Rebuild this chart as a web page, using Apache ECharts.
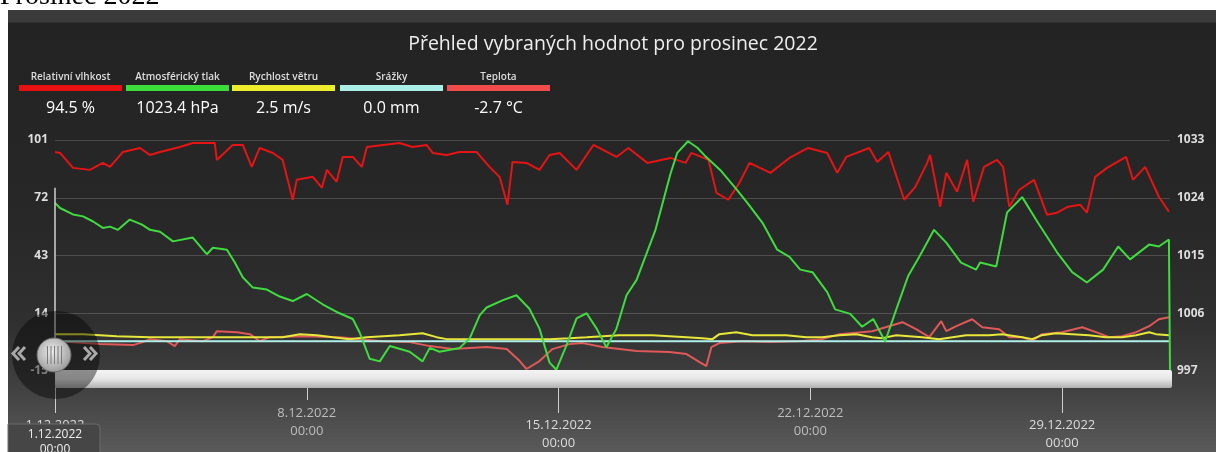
<!DOCTYPE html>
<html><head><meta charset="utf-8">
<script src="https://cdn.jsdelivr.net/npm/echarts@6/dist/echarts.min.js"></script>
<style>html,body{margin:0;padding:0;background:#fff}#c{width:1216px;height:452px}</style>
</head><body><div id="c"></div>
<script>
const T0 = Date.UTC(2022, 11, 1);
const DAY = 86400000;

const pageHeading = 'Prosinec 2022';
const chartTitle = 'Přehled vybraných hodnot pro prosinec 2022';
const legendLabels = ['Relativní vlhkost', 'Atmosférický tlak', 'Rychlost větru', 'Srážky', 'Teplota'];
const legendValues = ['94.5 %', '1023.4 hPa', '2.5 m/s', '0.0 mm', '-2.7 °C'];

// day offsets from 1.12.2022 00:00 and values
const humDays = [0,0.14,0.5,0.97,1.33,1.53,1.89,2.36,2.64,2.92,3.47,3.83,4.44,4.5,4.94,5.22,5.47,5.69,6.06,6.33,6.61,6.72,7.17,7.42,7.56,7.83,8.0,8.28,8.53,8.67,9.58,9.94,10.33,10.5,10.89,11.25,11.72,12.08,12.36,12.58,12.72,13.11,13.47,13.75,14.03,14.5,14.97,15.61,15.94,16.47,17.11,17.53,17.69,18.17,18.39,18.72,19.03,19.31,19.89,20.42,20.94,21.47,21.75,22.0,22.64,22.86,23.17,23.61,23.92,24.25,24.33,24.61,24.78,25.08,25.36,25.53,25.83,26.19,26.36,26.53,26.81,27.22,27.58,27.86,28.17,28.5,28.69,28.92,29.25,29.78,29.97,30.31,30.69,30.97];
const humVals = [95,94.5,87,86,89.5,87.5,95,97,93.5,95,97.5,99.5,99.5,91,98.5,98.5,87.5,97,94.5,91,71,81,82.5,77,86,80,92.5,92.5,87.5,97.5,99.5,97.5,98.5,94.5,93.5,95,95,87.5,82.5,68.5,90,89.5,86,93.5,94.5,86,98.5,92.5,97,89.5,92,89.5,94.5,91,74.5,71,79.5,89.5,84.5,92,97,94.5,84.5,92.5,97,90,95,71,77.5,89.5,93.5,67.5,84.5,75,91,70,87.5,91,87.5,67.5,76,81,63.5,64.5,67.5,68.5,64.5,82.5,87,92.5,81,87.5,72.5,65];

const presDays = [0,0.14,0.5,0.78,1.06,1.33,1.53,1.75,2.08,2.42,2.64,2.92,3.28,3.83,4.22,4.39,4.78,5.0,5.22,5.5,5.89,6.25,6.61,7.0,7.44,7.83,8.28,8.47,8.75,9.03,9.31,9.86,10.22,10.42,10.69,11.25,11.53,11.81,12.0,12.44,12.83,13.19,13.47,13.75,13.94,14.22,14.5,14.78,15.06,15.33,15.61,15.89,16.17,16.69,17.11,17.3,17.6,17.86,18.06,18.5,18.92,19.25,19.67,20.08,20.42,20.72,21.06,21.47,21.69,22.11,22.44,22.75,23.08,23.39,23.72,24.03,24.44,24.78,25.19,25.61,25.72,26.17,26.47,26.89,27.33,27.86,28.28,28.69,29.14,29.56,29.89,30.42,30.69,30.97,31.0];
const presVals = [1023.2,1022.4,1021.4,1021.1,1020.3,1019.3,1019.5,1019.0,1020.6,1019.8,1019.0,1018.7,1017.2,1017.8,1015.2,1016.2,1015.9,1013.9,1011.6,1010.0,1009.7,1008.6,1007.9,1009.0,1007.4,1006.2,1005.1,1003.0,998.9,998.5,1000.9,1000.0,998.5,1000.6,1000.0,1000.6,1002.1,1005.7,1006.9,1008.0,1008.8,1006.7,1003.6,998.3,997.2,1001.0,1005.2,1006.0,1003.6,1000.7,1003.6,1008.8,1011.2,1018.9,1027.7,1031.0,1032.8,1031.8,1030.6,1028.3,1025.5,1023.2,1020.1,1015.9,1014.8,1012.8,1012.4,1009.3,1006.6,1005.9,1003.9,1005.1,1001.6,1006.6,1011.8,1014.8,1019.0,1017.0,1013.9,1012.8,1013.9,1013.3,1021.7,1024.1,1020.1,1015.5,1012.4,1010.8,1012.8,1016.4,1014.4,1016.7,1016.4,1017.5,997];

const windDays = [0,0.78,1.72,2.64,3.56,4.03,5.42,6.33,6.81,7.28,7.72,8.19,8.67,9.58,10.22,10.61,10.89,11.53,12.64,13.75,14.31,14.78,15.69,16.61,17.56,18.0,18.28,18.47,18.94,19.39,20.33,20.89,21.33,21.81,22.28,22.72,23.0,23.39,24.11,24.58,25.33,25.97,26.33,26.89,27.17,27.44,27.83,28.28,28.75,29.22,29.67,30.06,30.42,30.61,30.97];
const windVals = [3.5,3.5,2.5,2,2,2,2,2,3.5,3,2,1,2,3,4,2,1,1,1,1,1.5,2,3,3,2,1.5,1,3.5,4.5,3,3,2,2,3,3.5,2,1.5,3,2,1,3,3,3.5,2,1,3,4,3.5,3,2,2,3,4.5,3.5,3];

const precDays = [0,1,2,3,4,5,6,7,8,9,10,11,12,13,14,15,16,17,18,19,20,21,22,23,24,25,26,27,28,29,30,30.97];
const precVals = [0,0,0,0,0,0,0,0,0,0,0,0,0,0,0,0,0,0,0,0,0,0,0,0,0,0,0,0,0,0,0,0];

const tempDays = [0,0.42,1.25,2.17,2.44,2.64,3.11,3.33,3.47,4.11,4.39,4.5,5.06,5.42,5.69,5.97,6.89,7.92,8.47,9.11,9.86,10.42,11.06,12.0,12.56,12.92,13.11,13.47,13.83,14.31,14.67,15.22,16.17,17.08,17.56,17.92,18.11,18.25,18.47,19.11,19.86,20.69,21.33,21.81,22.72,23.56,23.94,24.31,24.64,24.78,25.06,25.5,25.78,26.25,26.53,26.89,27.17,27.44,28.0,28.56,28.94,29.31,29.67,30.06,30.42,30.69,30.97];
const tempVals = [0,-0.5,-1.5,-2,-0.5,1,0,-2.5,1,0,2,5,4.5,3.5,0,2,2.5,2,1,0,-0.5,-2.5,-4,-3,-4,-10,-14,-10,-4,-1.5,-1,-3,-5,-5.5,-6.5,-10.5,-12.5,-3,-1,0,-0.5,0,1,3.5,5,9.5,6,2,10,5,7.5,11,7,6,2,2,0,3.5,4.5,7,4.5,2,2.5,4.5,7.5,11,12];

const upperTickDays = [7, 21];
const lowerTickDays = [0, 14, 28];

const COL = {
  hum: '#e61414', pres: '#3fdc3f', wind: '#e8e83a', prec: '#aef0e6', temp: '#e05858'
};
const legendColors = ['#e81010', '#3ddc3d', '#eded2d', '#aaf0e8', '#f04c4c'];

function toData(days, vals) { return days.map((d, i) => [d, vals[i]]); }
function pad(n) { return (n < 10 ? '0' : '') + n; }
function fmt(v) {
  const d = new Date(T0 + v * DAY);
  return d.getUTCDate() + '.' + (d.getUTCMonth() + 1) + '.' + d.getUTCFullYear() + '\n' + pad(d.getUTCHours()) + ':' + pad(d.getUTCMinutes());
}

const FONT = '"Open Sans", "Noto Sans", sans-serif';
const graphics = [];
graphics.push({ type: 'text', z: 1, style: { text: pageHeading, x: 0, y: -3, font: '28px "Liberation Serif", serif', fill: '#000', textVerticalAlign: 'middle' } });
graphics.push({ type: 'rect', z: -20, shape: { x: 8, y: 10, width: 1208, height: 442 },
  style: { fill: new echarts.graphic.LinearGradient(0, 0, 0, 1, [
    { offset: 0, color: '#3b3b3b' }, { offset: 0.027, color: '#3b3b3b' }, { offset: 0.03, color: '#232323' },
    { offset: 0.45, color: '#272727' }, { offset: 0.7, color: '#2f2f2f' }, { offset: 0.85, color: '#404040' }, { offset: 1, color: '#5a5a5a' }]) } });
graphics.push({ type: 'text', z: 10, style: { text: chartTitle, x: 613, y: 44, font: '19.5px ' + FONT, fill: '#eeeeee', textAlign: 'center', textVerticalAlign: 'middle' } });
const legX = [19, 126, 232, 340, 447];
legendLabels.forEach((lab, i) => {
  const cx = legX[i] + 51.5;
  graphics.push({ type: 'text', z: 10, style: { text: lab, x: cx, y: 77, font: '600 10px ' + FONT, fill: '#dddddd', textAlign: 'center', textVerticalAlign: 'middle' } });
  graphics.push({ type: 'rect', z: 10, shape: { x: legX[i], y: 85, width: 103, height: 6 }, style: { fill: legendColors[i] } });
  graphics.push({ type: 'text', z: 10, style: { text: legendValues[i], x: cx, y: 108, font: '16px ' + FONT, fill: '#ffffff', textAlign: 'center', textVerticalAlign: 'middle' } });
});
// scrollbar / slider
graphics.push({ type: 'rect', z: 50, shape: { x: 55, y: 370, width: 1117, height: 18, r: 2 },
  style: { fill: new echarts.graphic.LinearGradient(0, 0, 0, 1, [{ offset: 0, color: '#f4f4f4' }, { offset: 0.5, color: '#e6e6e6' }, { offset: 1, color: '#b0b0b0' }]) } });
graphics.push({ type: 'circle', z: 51, shape: { cx: 56, cy: 355, r: 44 }, style: { fill: 'rgba(0,0,0,0.42)' } });
graphics.push({ type: 'circle', z: 52, shape: { cx: 54, cy: 355, r: 17 },
  style: { fill: new echarts.graphic.RadialGradient(0.45, 0.4, 0.7, [{ offset: 0, color: '#ececec' }, { offset: 1, color: '#8e8e8e' }]), stroke: '#6a6a6a', lineWidth: 1 } });
[47.5, 51, 54.5, 58, 61.5].forEach(x => {
  graphics.push({ type: 'line', z: 53, shape: { x1: x, y1: 346, x2: x, y2: 364 }, style: { stroke: '#7a7a7a', lineWidth: 1 } });
});
[[[19, 347], [13, 353.5], [19, 360]], [[25, 347], [19, 353.5], [25, 360]], [[84, 347], [90, 353.5], [84, 360]], [[90, 347], [96, 353.5], [90, 360]]].forEach(pts => {
  graphics.push({ type: 'polyline', z: 53, shape: { points: pts }, style: { stroke: '#a8a8a8', lineWidth: 3, fill: null } });
});
// bottom-left navigator label
graphics.push({ type: 'rect', z: 54, shape: { x: 8, y: 424, width: 92, height: 32, r: [0, 4, 0, 0] }, style: { fill: '#464646', stroke: '#6a6a6a', lineWidth: 1 } });
graphics.push({ type: 'text', z: 55, style: { text: '1.12.2022\n00:00', x: 55, y: 427, font: '12px ' + FONT, lineHeight: 15, fill: '#eeeeee', textAlign: 'center', textVerticalAlign: 'top' } });

const labelBase = { formatter: fmt, color: '#bdbdbd', fontSize: 13, lineHeight: 18, fontFamily: FONT, showMinLabel: true, showMaxLabel: true };
const numFmt = v => String(v);

const option = {
  animation: false,
  grid: { left: 55, top: 140, width: 1115, height: 232, containLabel: false },
  graphic: { elements: graphics },
  xAxis: [
    { type: 'value', min: 0, max: 31, position: 'bottom', offset: 16,
      axisLine: { show: false }, splitLine: { show: false }, axisTick: { show: false }, axisLabel: { show: false } },
    { type: 'value', min: 0, max: 31, position: 'bottom', offset: 16,
      axisLine: { show: false }, splitLine: { show: false },
      axisTick: { show: true, customValues: upperTickDays, length: 13, lineStyle: { color: '#cfcfcf', width: 1 } },
      axisLabel: Object.assign({ customValues: upperTickDays, margin: 17 }, labelBase) },
    { type: 'value', min: 0, max: 31, position: 'bottom', offset: 16,
      axisLine: { show: false }, splitLine: { show: false },
      axisTick: { show: true, customValues: lowerTickDays, length: 26, lineStyle: { color: '#cfcfcf', width: 1 } },
      axisLabel: Object.assign({ customValues: lowerTickDays, margin: 29 }, labelBase, { color: '#dcdcdc' }) }
  ],
  yAxis: [
    { type: 'value', min: -15, max: 101, interval: 29, position: 'left',
      axisLine: { show: false }, axisTick: { show: false },
      axisLabel: { color: '#dddddd', fontSize: 12, fontWeight: 'bold', margin: 7, fontFamily: FONT, formatter: numFmt },
      splitLine: { lineStyle: { color: 'rgba(255,255,255,0.17)', width: 1 } } },
    { type: 'value', min: 997, max: 1033, interval: 9, position: 'right',
      axisLine: { show: false }, axisTick: { show: false },
      axisLabel: { color: '#dddddd', fontSize: 12, fontWeight: 'bold', margin: 7, fontFamily: FONT, formatter: numFmt },
      splitLine: { show: false } }
  ],
  series: [
    { name: 'Teplota', type: 'line', xAxisIndex: 0, yAxisIndex: 0, data: toData(tempDays, tempVals), showSymbol: false, lineStyle: { color: COL.temp, width: 2 }, itemStyle: { color: COL.temp } },
    { name: 'Rychlost větru', type: 'line', xAxisIndex: 0, yAxisIndex: 0, data: toData(windDays, windVals), showSymbol: false, lineStyle: { color: COL.wind, width: 2 }, itemStyle: { color: COL.wind } },
    { name: 'Srážky', type: 'line', xAxisIndex: 0, yAxisIndex: 0, data: toData(precDays, precVals), showSymbol: false, lineStyle: { color: COL.prec, width: 2 }, itemStyle: { color: COL.prec } },
    { name: 'Relativní vlhkost', type: 'line', xAxisIndex: 0, yAxisIndex: 0, data: toData(humDays, humVals), showSymbol: false, lineStyle: { color: COL.hum, width: 2 }, itemStyle: { color: COL.hum },
      markLine: { silent: true, symbol: 'none', label: { show: false }, lineStyle: { color: '#d0d0d0', width: 1.5, type: 'solid' },
        data: [[{ coord: [0, 77] }, { coord: [0, -15] }]] } },
    { name: 'Atmosférický tlak', type: 'line', xAxisIndex: 0, yAxisIndex: 1, data: toData(presDays, presVals), showSymbol: false, lineStyle: { color: COL.pres, width: 2 }, itemStyle: { color: COL.pres } }
  ]
};
const chart = echarts.init(document.getElementById('c'));
chart.setOption(option);
</script>
</body></html>
